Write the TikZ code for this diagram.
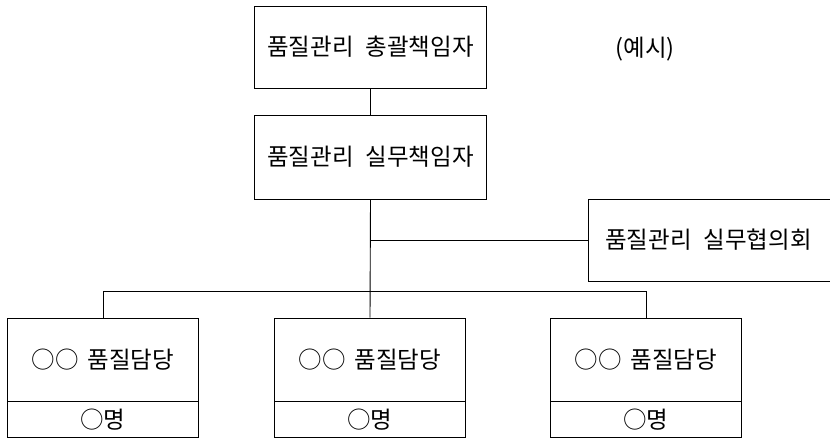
\documentclass[tikz,border=0pt]{standalone}
\usepackage{fontspec}
\setmainfont{Noto Sans CJK KR}
\newcommand{\wsp}{\hspace{0.5em}}
\begin{document}
\begin{tikzpicture}[x=1pt,y=-1pt,
  box/.style={draw=black,line width=0.9pt,inner sep=0pt,font=\fontsize{23.5}{26}\selectfont},
  conn/.style={draw=black,line width=0.9pt}]
\useasboundingbox (0,0) rectangle (830,437);
\node[box,minimum width=232,minimum height=82] (top) at (370.5,47) {품질관리\wsp 총괄책임자};
\node[box,minimum width=232,minimum height=84] (mid) at (370.5,157) {품질관리\wsp 실무책임자};
\node[box,minimum width=245,minimum height=82,anchor=west] (cnc) at (587.5,240) {\hspace*{-4pt}품질관리\wsp 실무협의회};
\node[font=\fontsize{23.5}{26}\selectfont] (ex) at (645,49) {(예\hspace{0.5pt}시)};
\foreach \i/\cx in {1/103,2/370,3/646}{
  \node[box,minimum width=191.5,minimum height=83,anchor=north] (b\i) at (\cx,317.5) {○○\hspace{0.15em} 품질담당};
  \node[box,minimum width=191.5,minimum height=35.5,anchor=north] (n\i) at (b\i.south) {○명};
}
\coordinate (j1) at (mid.south |- cnc.west);
\coordinate (l1) at (b1.north |- 0,291);
\coordinate (l3) at (b3.north |- 0,291);
\draw[conn] (top.south) -- (mid.north);
\draw[conn] (mid.south) -- (b2.north);
\draw[conn] (j1) -- (cnc.west);
\draw[conn] (b1.north) -- (l1) -- (l3) -- (b3.north);
\end{tikzpicture}
\end{document}
